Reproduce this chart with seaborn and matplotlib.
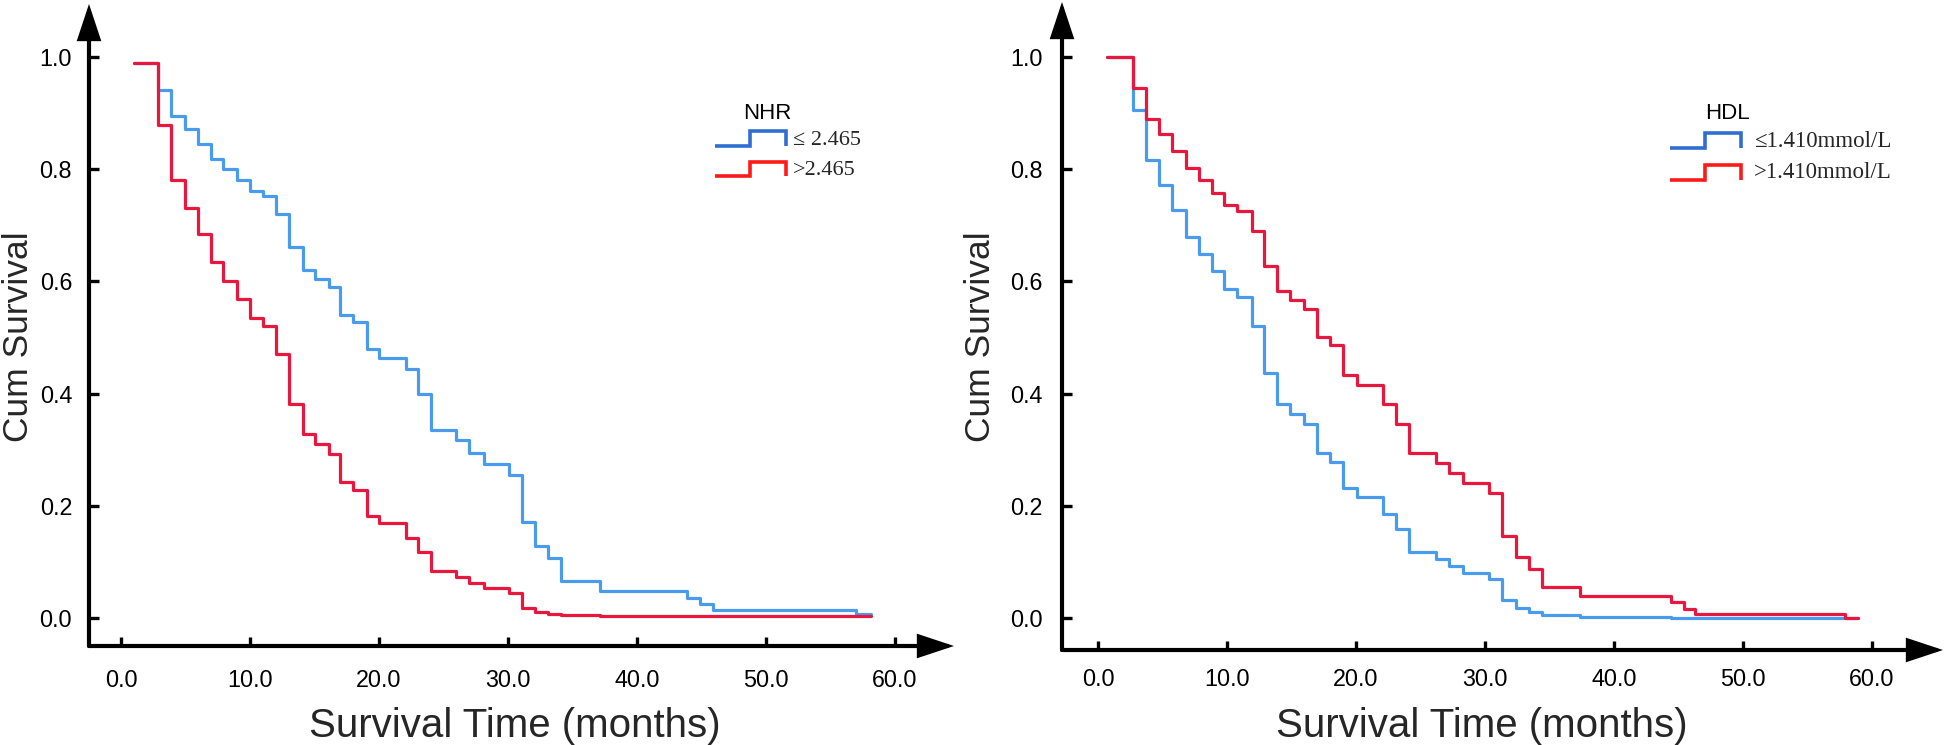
import numpy as np
import pandas as pd
import matplotlib
matplotlib.use("Agg")
import matplotlib.pyplot as plt
import seaborn as sns
from matplotlib.lines import Line2D
from matplotlib.legend_handler import HandlerBase
from matplotlib.patches import ArrowStyle
from matplotlib.ticker import FixedLocator, FormatStrFormatter
from matplotlib.font_manager import FontProperties

# ---------------- data ----------------
nhr_time = [1.0, 2.9, 3.9, 5.0, 6.0, 7.0, 7.9, 9.0, 10.0, 11.0, 12.0, 13.0, 14.1, 15.0,
            16.1, 17.0, 18.0, 19.1, 20.0, 22.1, 23.0, 24.0, 26.0, 27.0, 28.1, 30.1, 31.1,
            32.1, 33.1, 34.1, 37.1, 43.9, 44.9, 45.9, 57.0, 58.1]
nhr_low_surv = [0.99, 0.942, 0.895, 0.871, 0.845, 0.818, 0.80, 0.78, 0.762, 0.753, 0.721,
                0.661, 0.62, 0.604, 0.59, 0.54, 0.527, 0.48, 0.463, 0.444, 0.40, 0.335,
                0.317, 0.295, 0.275, 0.255, 0.172, 0.128, 0.107, 0.066, 0.049, 0.035,
                0.025, 0.015, 0.007, 0.007]
nhr_high_surv = [0.99, 0.879, 0.78, 0.731, 0.685, 0.635, 0.601, 0.568, 0.535, 0.52, 0.47,
                 0.382, 0.328, 0.31, 0.292, 0.242, 0.228, 0.182, 0.170, 0.143, 0.117, 0.083,
                 0.073, 0.063, 0.053, 0.045, 0.018, 0.010, 0.007, 0.005, 0.003, 0.003,
                 0.003, 0.003, 0.003, 0.003]

hdl_time = [0.7, 2.7, 3.7, 4.7, 5.75, 6.8, 7.8, 8.8, 9.8, 10.8, 11.9, 12.9, 13.9, 14.9,
            16.0, 17.0, 18.0, 19.0, 20.1, 22.1, 23.1, 24.1, 26.2, 27.2, 28.3, 30.3, 31.3,
            32.4, 33.4, 34.4, 37.4, 44.4, 45.4, 46.3, 57.9, 58.9]
hdl_low_surv = [1.0, 0.906, 0.817, 0.772, 0.727, 0.68, 0.648, 0.618, 0.587, 0.572, 0.52,
                0.437, 0.382, 0.363, 0.345, 0.294, 0.278, 0.232, 0.216, 0.186, 0.159, 0.118,
                0.106, 0.093, 0.08, 0.07, 0.032, 0.018, 0.011, 0.005, 0.002, 0.0, 0.0,
                0.0, 0.0, 0.0]
hdl_high_surv = [1.0, 0.945, 0.89, 0.862, 0.833, 0.802, 0.78, 0.758, 0.737, 0.725, 0.69,
                 0.627, 0.583, 0.567, 0.551, 0.501, 0.487, 0.434, 0.416, 0.381, 0.345, 0.294,
                 0.277, 0.258, 0.24, 0.222, 0.147, 0.108, 0.088, 0.055, 0.039, 0.028,
                 0.016, 0.007, 0.0, 0.0]

x_ticks = [0, 10, 20, 30, 40, 50, 60]
y_ticks = [0.0, 0.2, 0.4, 0.6, 0.8, 1.0]
nhr_labels = ["\u2264 2.465", ">2.465"]
hdl_labels = ["\u22641.410mmol/L", ">1.410mmol/L"]

# ---------------- style ----------------
sns.set_style("white")
plt.rcParams["font.family"] = ["Liberation Sans", "DejaVu Sans"]

CURVE_BLUE = "#4A9BEB"
CURVE_RED = "#E8173E"
LEG_BLUE = "#2F6FD2"
LEG_RED = "#FF1A1A"

W, H = 1944, 745
fig = plt.figure(figsize=(W / 100, H / 100), dpi=100)


def rect(l, r, top, bottom):
    return [l / W, (H - bottom) / H, (r - l) / W, (bottom - top) / H]


class StepHandler(HandlerBase):
    def create_artists(self, legend, orig_handle, xdescent, ydescent, width, height,
                       fontsize, trans):
        x0 = -xdescent
        y0 = -ydescent - 0.05 * fontsize
        top = y0 + 0.65 * fontsize
        xm = x0 + 0.49 * width
        ln = Line2D([x0, xm, xm, x0 + width, x0 + width], [y0, y0, top, top, y0],
                    color=orig_handle.get_color(), lw=orig_handle.get_linewidth(),
                    solid_joinstyle="miter", solid_capstyle="butt", transform=trans)
        return [ln]


def panel(ax_rect, xlim, ylim, times, low, high, labels, title, ylab_x, xlab_x,
          ypad, xpad, leg_xy, title_xy, textpad, hlen, leg_size):
    ax = fig.add_axes(ax_rect)
    n = len(times)
    df = pd.DataFrame({
        "Survival Time (months)": list(times) * 2,
        "Cum Survival": list(low) + list(high),
        "group": [labels[0]] * n + [labels[1]] * n,
    })
    sns.lineplot(data=df, x="Survival Time (months)", y="Cum Survival", hue="group",
                 hue_order=labels, palette={labels[0]: CURVE_BLUE, labels[1]: CURVE_RED},
                 drawstyle="steps-post", estimator=None, sort=False, lw=2.3,
                 legend=False, ax=ax)
    ax.set_xlim(*xlim)
    ax.set_ylim(*ylim)
    for s in ax.spines.values():
        s.set_visible(False)
    ax.xaxis.set_major_locator(FixedLocator(x_ticks))
    ax.yaxis.set_major_locator(FixedLocator(y_ticks))
    ax.xaxis.set_major_formatter(FormatStrFormatter("%.1f"))
    ax.yaxis.set_major_formatter(FormatStrFormatter("%.1f"))
    ax.tick_params(axis="y", direction="in", length=7.5, width=2.4, pad=ypad,
                   labelsize=16.8, left=True, color="black", labelcolor="black")
    ax.tick_params(axis="x", direction="in", length=6.5, width=2.4, pad=xpad,
                   labelsize=16.8, bottom=True, color="black", labelcolor="black")
    style = ArrowStyle("-|>", head_length=20.5, head_width=6.8)
    for end in [(1, 0), (0, 1)]:
        ax.annotate("", xy=end, xytext=(0, 0), xycoords="axes fraction",
                    textcoords="axes fraction",
                    arrowprops=dict(arrowstyle=style, mutation_scale=1, lw=3.0,
                                    color="black", shrinkA=0, shrinkB=0,
                                    joinstyle="miter"))
    ax.set_xlabel("Survival Time (months)", fontsize=29)
    ax.set_ylabel("Cum Survival", fontsize=25.5)
    ax.xaxis.label.set_va("center")
    ax.yaxis.label.set_va("center")
    ax.yaxis.label.set_rotation_mode("anchor")
    x0, y0, w, h = ax_rect
    ax.yaxis.set_label_coords((ylab_x / W - x0) / w, ((H - 337) / H - y0) / h)
    ax.xaxis.set_label_coords((xlab_x / W - x0) / w, ((H - 726) / H - y0) / h)

    handles = [Line2D([], [], color=LEG_BLUE, lw=2.6), Line2D([], [], color=LEG_RED, lw=2.6)]
    ax.legend(handles, labels, loc="upper left",
              bbox_to_anchor=(leg_xy[0] / W, (H - leg_xy[1]) / H),
              bbox_transform=fig.transFigure, frameon=False, borderpad=0,
              borderaxespad=0, handlelength=hlen, handleheight=0.7,
              handletextpad=textpad, labelspacing=0.45,
              prop=FontProperties(family=["Liberation Serif", "DejaVu Serif"], size=leg_size),
              handler_map={Line2D: StepHandler()})
    # legend title
    fig.text(title_xy[0] / W, (H - title_xy[1]) / H, title, ha="left", va="baseline",
             fontsize=16, family=["Liberation Sans", "DejaVu Sans"], color="black")
    return ax


panel(rect(89, 954, 4, 646), (-2.48, 64.57), (-0.0499, 1.0945), nhr_time,
      nhr_low_surv, nhr_high_surv, nhr_labels, "NHR", 19, 515, 12.2, 16.3,
      (715, 129), (743, 119), 0.3, 3.2, 16)
panel(rect(1062, 1943, 2, 650), (-2.79, 65.5), (-0.057, 1.098), hdl_time,
      hdl_low_surv, hdl_high_surv, hdl_labels, "HDL", 980, 1482, 13.7, 13.2,
      (1670, 131), (1705, 119), 0.55, 3.1, 16.5)

fig.savefig("out.png", dpi=100)
